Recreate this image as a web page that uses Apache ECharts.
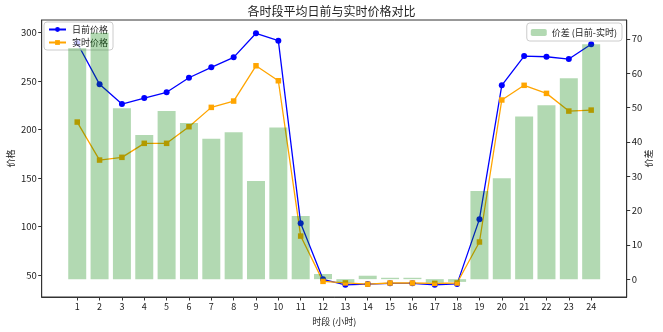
<!DOCTYPE html>
<html>
<head>
<meta charset="utf-8">
<script src="https://cdn.jsdelivr.net/npm/echarts@6/dist/echarts.min.js"></script>
<style>
  html, body { margin: 0; padding: 0; background: #fff; }
  #chart { width: 663px; height: 332px; }
</style>
</head>
<body>
<div id="chart"></div>
<script>
// Hours of the day (x positions)
const hours = [1,2,3,4,5,6,7,8,9,10,11,12,13,14,15,16,17,18,19,20,21,22,23,24];

// Average day-ahead price per hour
const dayAheadPrice = [289, 246.5, 226.2, 232.4, 238.3, 253.3, 264, 274.3, 299, 291.4, 103.5, 45.9,
                       40.2, 41, 41.8, 41.8, 40.2, 41.2, 107.8, 245.5, 275.6, 274.9, 272.5, 287.7];

// Average real-time price per hour
const realTimePrice = [207.7, 168.6, 171.4, 185.8, 185.8, 202.9, 222.8, 229.3, 265.6, 250.2, 90.4, 43.8,
                       42.2, 40.9, 42.1, 42.1, 41.7, 42.1, 84.3, 230.4, 245.5, 237.2, 219, 220];

// Average spread (day-ahead minus real-time)
const spread = [67.3, 71.8, 49.8, 42.0, 49.0, 45.5, 40.9, 42.8, 28.6, 44.2, 18.4, 1.5,
                -1.0, 1.0, 0.4, 0.4, -1.0, -0.8, 25.7, 29.4, 47.4, 50.7, 58.5, 68.4];

// Tick labels
const priceTicks = [50, 100, 150, 200, 250, 300];
const spreadTicks = [0, 10, 20, 30, 40, 50, 60, 70];

const FONT = '"Noto Sans CJK SC", "Noto Sans", sans-serif';
const TXT = '#222';

const pair = (vals) => hours.map((h, i) => [h, vals[i]]);

const chart = echarts.init(document.getElementById('chart'), null, { renderer: 'canvas' });

chart.setOption({
  animation: false,
  backgroundColor: '#fff',
  textStyle: { fontFamily: FONT, color: TXT },
  title: {
    text: '各时段平均日前与实时价格对比',
    left: 'center',
    top: 0,
    textStyle: { fontFamily: FONT, fontSize: 12, fontWeight: 'normal', color: TXT }
  },
  grid: {
    left: 41.7, right: 36.3, top: 20, bottom: 35,
    show: true, borderColor: '#333', borderWidth: 1,
    outerBoundsMode: 'none'
  },
  legend: [
    {
      data: ['日前价格', '实时价格'],
      orient: 'vertical',
      left: 44, top: 22,
      itemWidth: 17, itemHeight: 6, itemGap: 4,
      padding: [3, 5, 3, 4],
      backgroundColor: 'rgba(255,255,255,0.8)',
      borderColor: '#ccc', borderWidth: 1, borderRadius: 3,
      textStyle: { fontFamily: FONT, fontSize: 9, color: TXT, padding: [0, 0, 0, 1] }
    },
    {
      data: ['价差 (日前-实时)'],
      orient: 'vertical',
      right: 41, top: 23,
      itemWidth: 16, itemHeight: 7, itemGap: 5,
      padding: [5, 5, 4, 4],
      backgroundColor: 'rgba(255,255,255,0.8)',
      borderColor: '#ccc', borderWidth: 1, borderRadius: 3,
      textStyle: { fontFamily: FONT, fontSize: 9, color: TXT }
    }
  ],
  xAxis: {
    type: 'value',
    min: -0.59, max: 25.59,
    name: '时段 (小时)',
    nameLocation: 'middle',
    nameGap: 20,
    nameMoveOverlap: false,
    nameTextStyle: { fontFamily: FONT, fontSize: 9, color: TXT },
    axisLine: { show: true, onZero: false, lineStyle: { color: '#333', width: 1 } },
    axisTick: { show: true, length: 3.5, customValues: hours, lineStyle: { color: '#333' } },
    axisLabel: { customValues: hours, fontFamily: FONT, fontSize: 9, color: TXT, margin: 5 },
    splitLine: { show: false }
  },
  yAxis: [
    {
      type: 'value',
      position: 'left',
      min: 27.7, max: 312.7,
      name: '价格',
      nameLocation: 'middle',
      nameGap: 27,
      nameRotate: 90,
      nameMoveOverlap: false,
      nameTextStyle: { fontFamily: FONT, fontSize: 9, color: TXT },
      axisLine: { show: true, onZero: false, lineStyle: { color: '#333', width: 1 } },
      axisTick: { show: true, length: 3.5, customValues: priceTicks, lineStyle: { color: '#333' } },
      axisLabel: { customValues: priceTicks, fontFamily: FONT, fontSize: 9.5, color: TXT, margin: 5 },
      splitLine: { show: false }
    },
    {
      type: 'value',
      position: 'right',
      min: -5.2, max: 75.5,
      name: '价差',
      nameLocation: 'middle',
      nameGap: 17,
      nameRotate: 90,
      nameMoveOverlap: false,
      nameTextStyle: { fontFamily: FONT, fontSize: 9, color: TXT },
      axisLine: { show: true, onZero: false, lineStyle: { color: '#333', width: 1 } },
      axisTick: { show: true, length: 3.5, customValues: spreadTicks, lineStyle: { color: '#333' } },
      axisLabel: { customValues: spreadTicks, fontFamily: FONT, fontSize: 9.5, color: TXT, margin: 5 },
      splitLine: { show: false }
    }
  ],
  series: [
    {
      name: '日前价格',
      type: 'line',
      yAxisIndex: 0,
      data: pair(dayAheadPrice),
      symbol: 'circle',
      symbolSize: 6,
      color: '#0000ff',
      lineStyle: { color: '#0000ff', width: 1.3 },
      itemStyle: { color: '#0000ff' },
      z: 2
    },
    {
      name: '实时价格',
      type: 'line',
      yAxisIndex: 0,
      data: pair(realTimePrice),
      symbol: 'rect',
      symbolSize: 5.5,
      color: '#ffa500',
      lineStyle: { color: '#ffa500', width: 1.3 },
      itemStyle: { color: '#ffa500' },
      z: 2
    },
    {
      name: '价差 (日前-实时)',
      type: 'bar',
      yAxisIndex: 1,
      data: pair(spread),
      barWidth: 18,
      color: 'rgba(0,128,0,0.3)',
      itemStyle: { color: 'rgba(0,128,0,0.3)' },
      z: 4
    }
  ]
});
</script>
</body>
</html>
